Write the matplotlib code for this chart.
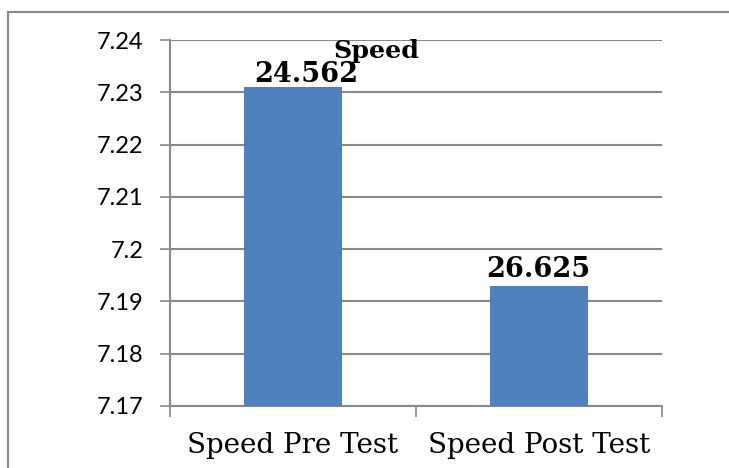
import matplotlib.pyplot as plt
from matplotlib.patches import Rectangle

categories = ["Speed Pre Test", "Speed Post Test"]
values = [7.231, 7.193]
bar_labels = ["24.562", "26.625"]
yticks = [7.17, 7.18, 7.19, 7.2, 7.21, 7.22, 7.23, 7.24]
ytick_labels = ["7.17", "7.18", "7.19", "7.2", "7.21", "7.22", "7.23", "7.24"]

grey = "#898989"
blue = "#4f81bd"
label_offsets = [(9.5, 3.5), (-0.5, 6.5)]  # points, as placed in the original

fig = plt.figure(figsize=(7.29, 4.68), dpi=100)
ax = fig.add_axes([0.2332, 0.1325, 0.6749, 0.782])

x = range(len(categories))
ax.bar(x, values, width=0.4, color=blue, zorder=3)
ax.set_xlim(-0.5, 1.5)
ax.set_ylim(7.17, 7.24)

ax.set_yticks(yticks)
ax.set_yticklabels(ytick_labels, fontfamily="Lato", fontsize=17)
ax.yaxis.grid(True, color=grey, linewidth=1.5, zorder=0)

ax.set_xticks([-0.5, 0.5, 1.5])
ax.set_xticklabels([])
ax.set_xticks(list(x), minor=True)
ax.set_xticklabels(categories, minor=True, fontfamily="DejaVu Serif", fontsize=20)
ax.tick_params(axis="x", which="minor", length=0, pad=19)
ax.tick_params(axis="x", which="major", length=8, color=grey, width=1.2)
ax.tick_params(axis="y", length=7, color=grey, width=1.2, pad=12)

for side in ["top", "right"]:
    ax.spines[side].set_visible(False)
for side in ["left", "bottom"]:
    ax.spines[side].set_color(grey)
    ax.spines[side].set_linewidth(1.5)

for xi, v, lab, off in zip(x, values, bar_labels, label_offsets):
    ax.annotate(lab, (xi, v), xytext=off, textcoords="offset points",
                ha="center", va="baseline", fontfamily="DejaVu Serif",
                fontweight="bold", fontsize=19.5)

fig.text(376.5 / 729, 1 - 58 / 468, "Speed", ha="center", va="baseline",
         fontfamily="DejaVu Serif", fontweight="bold", fontsize=18.3)

# outer chart border (right and bottom edges fall outside the image)
fig.patches.append(Rectangle((8 / 729, -0.05), 1.0, 1.05 - 12.5 / 468,
                             transform=fig.transFigure, fill=False,
                             edgecolor=grey, linewidth=1.5))

fig.savefig("out.png", dpi=100)
